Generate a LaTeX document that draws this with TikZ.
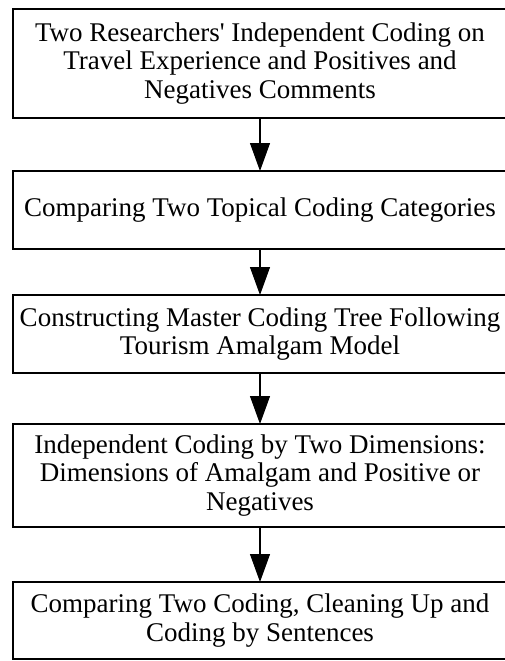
\documentclass[tikz,border=0pt]{standalone}
\usepackage{fontspec}
\setmainfont{Liberation Serif}
\usetikzlibrary{arrows.meta, positioning}

\begin{document}
\begin{tikzpicture}[
            x = 1pt, y = -1pt,
            > = {Triangle[length=28pt, width=20pt]},
            line width = 1.1pt,
            font = \fontsize{27}{28.5}\selectfont
        ]

        \tikzstyle{stage}=[
            draw = black,
            line width = 1.4pt,
            align = center,
            inner sep = 0pt,
            outer sep = 0pt,
            minimum width = 494pt
        ]

        \useasboundingbox (0,0) rectangle (505,661);

        \node[stage, minimum height=109pt] (coding) at (260,63.5) {Two Researchers\textquotesingle{} Independent Coding on\\Travel Experience and Positives and\\Negatives Comments};
        \node[stage, minimum height=78pt] (compare) [below=53pt of coding] {Comparing Two Topical Coding Categories};
        \node[stage, minimum height=78pt] (tree) [below=46pt of compare] {Constructing Master Coding Tree Following\\Tourism Amalgam Model};
        \node[stage, minimum height=103pt] (dims) [below=51pt of tree] {Independent Coding by Two Dimensions:\\Dimensions of Amalgam and Positive or\\Negatives};
        \node[stage, minimum height=77pt] (clean) [below=55pt of dims] {Comparing Two Coding, Cleaning Up and\\Coding by Sentences};

        \draw[->] (coding) -- (compare);
        \draw[->] (compare) -- (tree);
        \draw[->] (tree) -- (dims);
        \draw[->] (dims) -- (clean);

    \end{tikzpicture}
\end{document}
